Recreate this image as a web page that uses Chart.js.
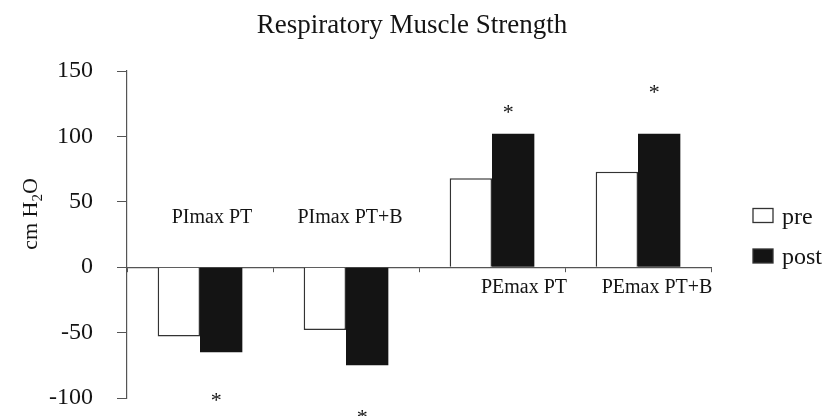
<!DOCTYPE html>
<html>
<head>
<meta charset="utf-8">
<script src="https://cdn.jsdelivr.net/npm/chart.js@4/dist/chart.umd.min.js"></script>
<style>
  html, body { margin: 0; padding: 0; background: #fff; }
  #wrap { width: 828px; height: 416px; }
</style>
</head>
<body>
<div id="wrap"><canvas id="chart" width="828" height="416"></canvas></div>
<script>
const categories = ['PImax PT', 'PImax PT+B', 'PEmax PT', 'PEmax PT+B'];
const preValues = [-53, -48, 68, 73];
const postValues = [-65, -75, 102, 102];
// where the asterisk sits above/below each post bar (in cm H2O)
const starValues = [-99, -112, 121, 136];
// category label placement (value on y axis, small x shift)
const labelValues = [38, 38, -16, -16];
const labelShift = [12, 4, 32, 19];
const yTicks = [-100, -50, 0, 50, 100, 150];

const serif = '"Liberation Serif", "Times New Roman", serif';
const ink = '#141414';

const annotations = {
  id: 'annotations',
  afterDraw(chart) {
    const { ctx, scales: { x, y } } = chart;
    ctx.save();
    ctx.fillStyle = ink;

    // title
    ctx.font = '27px ' + serif;
    ctx.textAlign = 'center';
    ctx.textBaseline = 'alphabetic';
    ctx.fillText('Respiratory Muscle Strength', 412, 33);

    // y axis title with subscript
    ctx.save();
    ctx.translate(37, 214);
    ctx.rotate(-Math.PI / 2);
    ctx.textAlign = 'left';
    const a = 'cm H';
    ctx.font = '22px ' + serif;
    const wA = ctx.measureText(a).width;
    ctx.font = '15px ' + serif;
    const wSub = ctx.measureText('2').width;
    ctx.font = '22px ' + serif;
    const wO = ctx.measureText('O').width;
    let sx = -(wA + wSub + wO) / 2;
    ctx.fillText(a, sx, 0);
    sx += wA;
    ctx.font = '15px ' + serif;
    ctx.fillText('2', sx, 5);
    sx += wSub;
    ctx.font = '22px ' + serif;
    ctx.fillText('O', sx, 0);
    ctx.restore();

    // category labels inside the plot
    ctx.font = '20px ' + serif;
    ctx.textAlign = 'center';
    ctx.textBaseline = 'middle';
    categories.forEach((c, i) => {
      ctx.fillText(c, x.getPixelForValue(i) + labelShift[i], y.getPixelForValue(labelValues[i]));
    });

    // significance asterisks over the post bars
    const postMeta = chart.getDatasetMeta(1);
    ctx.font = '22px ' + serif;
    ctx.textBaseline = 'alphabetic';
    postMeta.data.forEach((bar, i) => {
      ctx.fillText('*', bar.x - 5, y.getPixelForValue(starValues[i]) + 10);
    });

    // legend
    const items = [
      { text: 'pre', fill: '#fff', cy: 215.5 },
      { text: 'post', fill: ink, cy: 256 }
    ];
    items.forEach((it) => {
      ctx.fillStyle = it.fill;
      ctx.strokeStyle = '#333';
      ctx.lineWidth = 1.3;
      ctx.fillRect(753, it.cy - 7, 20, 14);
      ctx.strokeRect(753, it.cy - 7, 20, 14);
      ctx.fillStyle = ink;
      ctx.font = '24px ' + serif;
      ctx.textAlign = 'left';
      ctx.textBaseline = 'middle';
      ctx.fillText(it.text, 782, it.cy + 2);
    });
    ctx.restore();
  }
};

new Chart(document.getElementById('chart'), {
  type: 'bar',
  data: {
    labels: categories,
    datasets: [
      {
        label: 'pre',
        data: preValues,
        backgroundColor: '#ffffff',
        borderColor: '#333333',
        borderWidth: 1.5,
        categoryPercentage: 0.58,
        barPercentage: 1.0
      },
      {
        label: 'post',
        data: postValues,
        backgroundColor: ink,
        borderColor: ink,
        borderWidth: 0,
        categoryPercentage: 0.58,
        barPercentage: 1.0
      }
    ]
  },
  options: {
    responsive: false,
    animation: false,
    events: [],
    layout: {
      padding: { top: 71, bottom: 18, right: 117, left: 0 }
    },
    plugins: {
      legend: { display: false },
      title: { display: false },
      tooltip: { enabled: false }
    },
    scales: {
      x: {
        position: { y: 0 },
        offset: true,
        afterFit(scale) { scale.height = 0; },
        grid: {
          offset: true,
          drawOnChartArea: false,
          drawTicks: true,
          tickLength: 4,
          color: '#555'
        },
        border: { display: true, color: '#555', width: 1.2 },
        ticks: { display: false }
      },
      y: {
        min: -100,
        max: 150,
        afterFit(scale) {
          scale.width = 127;
          // the -100 label may hang into the bottom padding
          scale.paddingTop = 0;
          scale.paddingBottom = 0;
        },
        afterBuildTicks(scale) { scale.ticks = yTicks.map((v) => ({ value: v })); },
        grid: {
          drawOnChartArea: false,
          drawTicks: true,
          tickLength: 10,
          color: '#555'
        },
        border: { display: true, color: '#555', width: 1.2 },
        ticks: {
          color: ink,
          padding: 24,
          font: { family: serif, size: 24 }
        }
      }
    }
  },
  plugins: [annotations]
});
</script>
</body>
</html>
